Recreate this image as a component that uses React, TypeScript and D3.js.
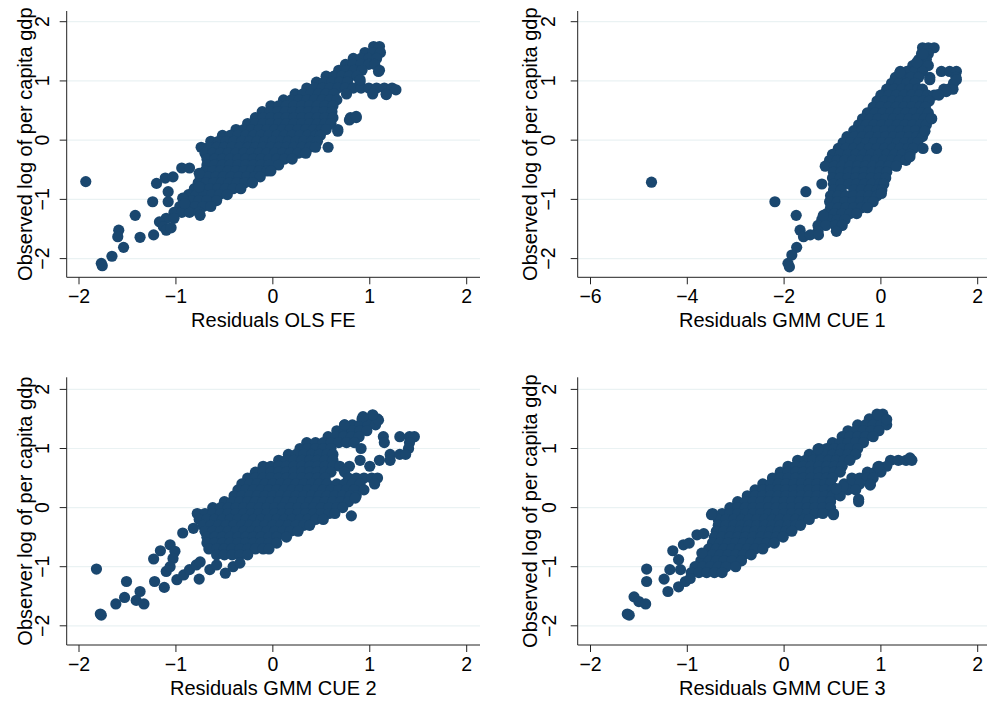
import React from 'react';
import * as d3 from 'd3';

const W = 987;
const H = 704;
const NAVY = '#1a476f';
const GRID = '#eaf2f3';
const FONT = '"Liberation Sans", Arial, Helvetica, sans-serif';

const yTicks = [-2, -1, 0, 1, 2];
const xTicksNarrow = [-2, -1, 0, 1, 2];
const xTicksWide = [-6, -4, -2, 0, 2];

const xTitles = ['Residuals OLS FE', 'Residuals GMM CUE 1', 'Residuals GMM CUE 2', 'Residuals GMM CUE 3'];
const yTitles = [
  'Observed log of per capita gdp',
  'Observed log of per capita gdp',
  'Observer log of per capita gdp',
  'Observed log of per capita gdp',
];

// dense cloud, one row per level of y: [y, x values read along the row]
const olsRows: [number, number[]][] = [
  [1.58, [1.04, 1.10]],
  [1.48, [0.95, 1.03, 1.11]],
  [1.38, [0.83, 0.91, 0.99, 1.07]],
  [1.28, [0.75, 0.83, 0.91, 0.99, 1.05]],
  [1.18, [0.68, 0.76, 0.84, 0.92, 1.10]],
  [1.08, [0.55, 0.63, 0.71, 0.79, 0.87]],
  [0.98, [0.45, 0.53, 0.61, 0.69, 0.77, 0.90]],
  [0.88, [0.35, 0.43, 0.51, 0.59, 0.67, 0.75, 0.83, 0.91, 0.99, 1.07, 1.15, 1.23]],
  [0.78, [0.23, 0.31, 0.39, 0.47, 0.55, 0.63, 0.76, 1.03, 1.17]],
  [0.68, [0.11, 0.19, 0.27, 0.35, 0.43, 0.51, 0.59, 0.66]],
  [0.58, [-0.02, 0.06, 0.14, 0.22, 0.30, 0.38, 0.46, 0.54, 0.62]],
  [0.48, [-0.11, -0.03, 0.05, 0.13, 0.21, 0.29, 0.37, 0.45, 0.53, 0.61]],
  [0.38, [-0.18, -0.10, -0.02, 0.06, 0.14, 0.22, 0.30, 0.38, 0.46, 0.54, 0.62, 0.80, 0.86]],
  [0.28, [-0.26, -0.18, -0.10, -0.02, 0.06, 0.14, 0.22, 0.30, 0.38, 0.46, 0.54, 0.60]],
  [0.18, [-0.38, -0.30, -0.22, -0.14, -0.06, 0.02, 0.10, 0.18, 0.26, 0.34, 0.42, 0.50, 0.55, 0.67]],
  [0.08, [-0.52, -0.44, -0.36, -0.28, -0.20, -0.12, -0.04, 0.04, 0.12, 0.20, 0.28, 0.36, 0.44, 0.49]],
  [-0.02, [-0.64, -0.56, -0.48, -0.40, -0.32, -0.24, -0.16, -0.08, 0.00, 0.08, 0.16, 0.24, 0.32, 0.40, 0.46]],
  [-0.12, [-0.74, -0.66, -0.58, -0.50, -0.42, -0.34, -0.26, -0.18, -0.10, -0.02, 0.06, 0.14, 0.22, 0.30, 0.38, 0.44, 0.57]],
  [-0.22, [-0.70, -0.62, -0.54, -0.46, -0.38, -0.30, -0.22, -0.14, -0.06, 0.02, 0.10, 0.18, 0.26, 0.34]],
  [-0.32, [-0.68, -0.60, -0.52, -0.44, -0.36, -0.28, -0.20, -0.12, -0.04, 0.04, 0.12, 0.20]],
  [-0.42, [-0.68, -0.60, -0.52, -0.44, -0.36, -0.28, -0.20, -0.12, -0.04, 0.06]],
  [-0.52, [-0.70, -0.62, -0.54, -0.46, -0.38, -0.30, -0.22, -0.14, -0.06, -0.02]],
  [-0.62, [-0.75, -0.67, -0.59, -0.51, -0.43, -0.35, -0.27, -0.19, -0.13]],
  [-0.72, [-0.77, -0.69, -0.61, -0.53, -0.45, -0.37, -0.29, -0.21]],
  [-0.82, [-0.81, -0.73, -0.65, -0.57, -0.49, -0.41, -0.33]],
  [-0.92, [-0.87, -0.79, -0.71, -0.63, -0.55, -0.47]],
  [-1.02, [-0.92, -0.84, -0.76, -0.68, -0.58]],
  [-1.12, [-0.96, -0.88, -0.80, -0.72, -0.64]],
  [-1.22, [-1.02, -0.94, -0.86, -0.76]],
  [-1.32, [-1.10, -1.02]],
];
const olsLoose: [number, number][] = [
  [-1.93, -0.70], [-1.77, -2.08], [-1.76, -2.12], [-1.66, -1.96], [-1.54, -1.81], [-1.59, -1.52],
  [-1.60, -1.63], [-1.42, -1.27], [-1.37, -1.64], [-1.24, -1.04], [-1.23, -1.60], [-1.20, -0.73],
  [-1.11, -0.64], [-1.03, -0.62], [-1.08, -0.87], [-1.08, -1.04], [-1.17, -1.38], [-1.13, -1.46],
  [-1.10, -1.52], [-1.05, -1.48], [-0.94, -0.47], [-0.86, -0.47], [-0.93, -0.98], [-0.91, -1.07],
  [-0.76, -0.56], [-0.75, -1.27], [-0.76, -0.79], [0.79, 0.34], [0.86, 0.40], [0.67, 0.15],
  [1.27, 0.85], [1.17, 0.77], [1.09, 1.16], [0.90, 1.02],
];

const cue1Rows: [number, number[]][] = [
  [1.56, [0.86, 0.98, 1.10]],
  [1.46, [0.84, 0.98]],
  [1.36, [0.78, 0.94]],
  [1.26, [0.66, 0.82, 0.98]],
  [1.16, [0.40, 0.54, 0.70, 0.86, 1.25, 1.42, 1.56]],
  [1.06, [0.30, 0.46, 0.62, 0.78, 1.01, 1.55]],
  [0.96, [0.22, 0.38, 0.54, 0.70, 1.50]],
  [0.86, [0.12, 0.28, 0.44, 0.60, 0.76, 0.86, 1.30, 1.40, 1.49]],
  [0.76, [0.00, 0.16, 0.32, 0.48, 0.64, 0.80, 0.96, 1.10, 1.20]],
  [0.66, [-0.08, 0.08, 0.24, 0.40, 0.56, 0.72, 0.88, 1.00]],
  [0.56, [-0.16, 0.00, 0.16, 0.32, 0.48, 0.64, 0.80, 0.92]],
  [0.46, [-0.28, -0.12, 0.04, 0.20, 0.36, 0.52, 0.68, 0.84, 0.98]],
  [0.36, [-0.38, -0.22, -0.06, 0.10, 0.26, 0.42, 0.58, 0.74, 0.90, 1.05]],
  [0.26, [-0.46, -0.30, -0.14, 0.02, 0.18, 0.34, 0.50, 0.66, 0.82, 0.94]],
  [0.16, [-0.56, -0.40, -0.24, -0.08, 0.08, 0.24, 0.40, 0.56, 0.72, 0.90]],
  [0.06, [-0.70, -0.54, -0.38, -0.22, -0.06, 0.10, 0.26, 0.42, 0.58, 0.74, 0.86]],
  [-0.04, [-0.78, -0.62, -0.46, -0.30, -0.14, 0.02, 0.18, 0.34, 0.50, 0.66, 0.76]],
  [-0.14, [-0.88, -0.72, -0.56, -0.40, -0.24, -0.08, 0.08, 0.24, 0.40, 0.56, 0.67, 0.87, 1.15]],
  [-0.24, [-1.00, -0.84, -0.68, -0.52, -0.36, -0.20, -0.04, 0.12, 0.28, 0.44, 0.60]],
  [-0.34, [-1.06, -0.90, -0.74, -0.58, -0.42, -0.26, -0.10, 0.06, 0.22, 0.38, 0.52]],
  [-0.44, [-1.15, -0.96, -0.80, -0.64, -0.48, -0.32, -0.16, 0.00, 0.16, 0.32]],
  [-0.54, [-0.98, -0.82, -0.66, -0.50, -0.34, -0.18, -0.02, 0.12]],
  [-0.64, [-1.00, -0.84, -0.68, -0.52, -0.36, -0.20, -0.04, 0.10]],
  [-0.74, [-1.22, -0.98, -0.82, -0.66, -0.50, -0.34, -0.18, -0.02, 0.06]],
  [-0.84, [-0.98, -0.82, -0.56, -0.40, -0.24, -0.08, 0.02]],
  [-0.94, [-1.04, -0.88, -0.72, -0.56, -0.40, -0.24, -0.08]],
  [-1.04, [-1.06, -0.90, -0.74, -0.58, -0.42, -0.26, -0.16]],
  [-1.14, [-1.04, -0.88, -0.72, -0.56, -0.40, -0.28]],
  [-1.24, [-1.12, -0.96, -0.80, -0.64, -0.50]],
  [-1.34, [-1.22, -1.06, -0.90, -0.74]],
  [-1.44, [-1.30, -1.14, -0.94, -0.80]],
  [-1.54, [-1.30, -0.92]],
];
const cue1Loose: [number, number][] = [
  [-4.74, -0.71], [-2.19, -1.04], [-1.55, -0.87], [-1.75, -1.27], [-1.67, -1.52], [-1.60, -1.63],
  [-1.46, -1.60], [-1.74, -1.81], [-1.84, -1.94], [-1.92, -2.08], [-1.89, -2.14], [-1.29, -1.60],
  [-1.19, -1.27], [0.01, -0.90], [0.60, -0.28], [0.91, 0.15], [1.04, 0.37], [1.01, 1.02],
  [0.87, 1.45], [0.74, 1.31], [0.39, 1.14], [1.56, 1.02], [1.35, 0.82], [1.18, 0.77],
];

const cue2Rows: [number, number[]][] = [
  [1.56, [1.03]],
  [1.50, [0.92, 1.00, 1.08]],
  [1.40, [0.74, 0.82, 0.90, 0.98, 1.06]],
  [1.30, [0.66, 0.74, 0.82, 0.90, 0.97]],
  [1.20, [0.57, 0.65, 0.73, 0.81, 0.89, 1.14, 1.31, 1.41, 1.46]],
  [1.10, [0.35, 0.44, 0.52, 0.60, 0.68, 0.76, 0.84, 1.15, 1.41]],
  [1.00, [0.28, 0.36, 0.44, 0.52, 0.60, 0.91, 1.40]],
  [0.90, [0.16, 0.24, 0.32, 0.40, 0.48, 0.56, 0.62, 1.21, 1.31, 1.37]],
  [0.80, [0.06, 0.14, 0.22, 0.30, 0.38, 0.46, 0.54, 0.62, 0.90, 1.10, 1.21]],
  [0.70, [-0.10, -0.02, 0.06, 0.14, 0.22, 0.30, 0.38, 0.46, 0.54, 0.62, 0.69, 0.79, 1.00]],
  [0.60, [-0.18, -0.10, -0.02, 0.06, 0.14, 0.22, 0.30, 0.38, 0.46, 0.54, 0.60, 0.74]],
  [0.50, [-0.26, -0.18, -0.10, -0.02, 0.06, 0.14, 0.22, 0.30, 0.38, 0.46, 0.54, 0.78, 0.86, 0.94, 1.02, 1.08]],
  [0.40, [-0.32, -0.24, -0.16, -0.08, 0.00, 0.08, 0.16, 0.24, 0.32, 0.40, 0.48, 0.56, 0.66, 0.74, 0.82, 0.90, 1.05]],
  [0.30, [-0.36, -0.28, -0.20, -0.12, -0.04, 0.04, 0.12, 0.20, 0.28, 0.36, 0.44, 0.52, 0.60, 0.68, 0.76, 0.84, 0.94]],
  [0.20, [-0.40, -0.32, -0.24, -0.16, -0.08, 0.00, 0.08, 0.16, 0.24, 0.32, 0.40, 0.48, 0.56, 0.64, 0.72, 0.80, 0.86]],
  [0.10, [-0.50, -0.42, -0.34, -0.26, -0.18, -0.10, -0.02, 0.06, 0.14, 0.22, 0.30, 0.38, 0.46, 0.54, 0.62, 0.70, 0.78]],
  [0.00, [-0.62, -0.54, -0.46, -0.38, -0.30, -0.22, -0.14, -0.06, 0.02, 0.10, 0.18, 0.26, 0.34, 0.42, 0.50, 0.58, 0.66, 0.72]],
  [-0.10, [-0.78, -0.70, -0.62, -0.54, -0.46, -0.38, -0.30, -0.22, -0.14, -0.06, 0.02, 0.10, 0.18, 0.26, 0.34, 0.42, 0.50, 0.58, 0.64]],
  [-0.20, [-0.76, -0.68, -0.60, -0.52, -0.44, -0.36, -0.28, -0.20, -0.12, -0.04, 0.04, 0.12, 0.20, 0.28, 0.36, 0.44, 0.52]],
  [-0.30, [-0.72, -0.64, -0.56, -0.48, -0.40, -0.32, -0.24, -0.16, -0.08, 0.00, 0.08, 0.16, 0.24, 0.32, 0.38]],
  [-0.40, [-0.70, -0.62, -0.54, -0.46, -0.38, -0.30, -0.22, -0.14, -0.06, 0.02, 0.10, 0.18, 0.26]],
  [-0.50, [-0.68, -0.60, -0.52, -0.44, -0.36, -0.28, -0.20, -0.12, -0.04, 0.04, 0.14]],
  [-0.60, [-0.68, -0.60, -0.52, -0.44, -0.36, -0.28, -0.20, -0.12, -0.04, 0.04]],
  [-0.70, [-0.66, -0.58, -0.50, -0.42, -0.34, -0.26, -0.18, -0.10, -0.04]],
  [-0.80, [-0.58, -0.50, -0.42, -0.34, -0.26]],
];
const cue2Loose: [number, number][] = [
  [-1.82, -1.04], [-1.78, -1.80], [-1.77, -1.82], [-1.62, -1.63], [-1.53, -1.52], [-1.51, -1.25],
  [-1.37, -1.42], [-1.41, -1.57], [-1.33, -1.63], [-1.23, -0.87], [-1.22, -1.25], [-1.16, -0.73],
  [-1.12, -1.35], [-1.06, -0.63], [-1.01, -0.74], [-1.03, -0.86], [-1.10, -1.08], [-1.06, -1.00],
  [-0.99, -1.22], [-0.92, -1.14], [-0.86, -1.05], [-0.79, -0.97], [-0.75, -0.92], [-0.76, -1.21],
  [-0.93, -0.43], [-0.82, -0.35], [-0.65, -1.05], [-0.58, -0.97], [-0.49, -1.11], [-0.41, -1.00],
  [-0.34, -0.94], [0.81, -0.14], [0.85, 0.16], [1.09, 1.48], [1.03, 1.57], [0.93, 1.54], [0.74, 1.40],
];

const cue3Rows: [number, number[]][] = [
  [1.58, [0.96, 1.02]],
  [1.50, [0.88, 0.96, 1.04]],
  [1.40, [0.76, 0.84, 0.92, 1.00, 1.06]],
  [1.30, [0.66, 0.74, 0.82, 0.90, 0.98]],
  [1.20, [0.60, 0.68, 0.76, 0.84, 0.92]],
  [1.10, [0.50, 0.58, 0.66, 0.74, 0.82]],
  [1.00, [0.36, 0.44, 0.52, 0.60, 0.68, 0.76]],
  [0.90, [0.26, 0.34, 0.42, 0.50, 0.58, 0.66, 0.74]],
  [0.80, [0.14, 0.22, 0.30, 0.38, 0.46, 0.54, 0.62, 0.68, 1.10, 1.18, 1.26, 1.32]],
  [0.70, [0.04, 0.12, 0.20, 0.28, 0.36, 0.44, 0.52, 0.60, 0.98, 1.06]],
  [0.60, [-0.04, 0.04, 0.12, 0.20, 0.28, 0.36, 0.44, 0.52, 0.58, 0.86, 0.94, 1.00]],
  [0.50, [-0.12, -0.04, 0.04, 0.12, 0.20, 0.28, 0.36, 0.44, 0.50, 0.70, 0.78, 0.86, 0.92]],
  [0.40, [-0.22, -0.14, -0.06, 0.02, 0.10, 0.18, 0.26, 0.34, 0.42, 0.48, 0.62, 0.70, 0.78, 0.89]],
  [0.30, [-0.30, -0.22, -0.14, -0.06, 0.02, 0.10, 0.18, 0.26, 0.34, 0.42, 0.50, 0.58, 0.66, 0.74]],
  [0.20, [-0.38, -0.30, -0.22, -0.14, -0.06, 0.02, 0.10, 0.18, 0.26, 0.34, 0.42, 0.50, 0.58]],
  [0.10, [-0.48, -0.40, -0.32, -0.24, -0.16, -0.08, 0.00, 0.08, 0.16, 0.24, 0.32, 0.40, 0.48, 0.77]],
  [0.00, [-0.56, -0.48, -0.40, -0.32, -0.24, -0.16, -0.08, 0.00, 0.08, 0.16, 0.24, 0.32, 0.40, 0.48]],
  [-0.10, [-0.74, -0.64, -0.56, -0.48, -0.40, -0.32, -0.24, -0.16, -0.08, 0.00, 0.08, 0.16, 0.24, 0.32, 0.40, 0.51]],
  [-0.20, [-0.68, -0.60, -0.52, -0.44, -0.36, -0.28, -0.20, -0.12, -0.04, 0.04, 0.12, 0.20, 0.26]],
  [-0.30, [-0.68, -0.60, -0.52, -0.44, -0.36, -0.28, -0.20, -0.12, -0.04, 0.04, 0.12, 0.17]],
  [-0.40, [-0.70, -0.62, -0.54, -0.46, -0.38, -0.30, -0.22, -0.14, -0.06, 0.02, 0.08]],
  [-0.50, [-0.72, -0.64, -0.56, -0.48, -0.40, -0.32, -0.24, -0.16, -0.08, -0.01]],
  [-0.60, [-0.74, -0.66, -0.58, -0.50, -0.42, -0.34, -0.26, -0.18, -0.10]],
  [-0.70, [-0.78, -0.70, -0.62, -0.54, -0.46, -0.38, -0.30, -0.22]],
  [-0.80, [-0.82, -0.74, -0.66, -0.58, -0.50, -0.42, -0.34]],
  [-0.90, [-0.86, -0.78, -0.70, -0.62, -0.54, -0.44]],
  [-1.00, [-0.92, -0.84, -0.76, -0.68, -0.60, -0.50]],
  [-1.10, [-0.96, -0.88, -0.80, -0.72, -0.64]],
];
const cue3Loose: [number, number][] = [
  [-1.62, -1.80], [-1.60, -1.82], [-1.55, -1.51], [-1.50, -1.59], [-1.43, -1.63], [-1.42, -1.04],
  [-1.42, -1.25], [-1.24, -1.21], [-1.20, -1.42], [-1.18, -1.05], [-1.15, -0.73], [-1.09, -0.88],
  [-1.07, -1.05], [-1.09, -1.34], [-1.02, -1.25], [-0.97, -1.20], [-1.04, -0.63], [-0.98, -0.60],
  [-0.90, -0.46], [-0.83, -0.44], [-0.85, -0.77], [-0.75, -0.12], [0.51, -0.12], [0.77, 0.14],
  [0.97, 1.57], [1.06, 1.49], [0.35, 0.99], [1.30, 0.84], [0.97, 0.69], [0.89, 0.38],
  [0.61, 0.36], [0.54, 0.32],
];

const toPoints = (rows: [number, number[]][], loose: [number, number][]) => [
  ...rows.flatMap(([y, xs]) => xs.map(x => [x, y] as [number, number])),
  ...loose,
];

const panels = [
  { pts: toPoints(olsRows, olsLoose), xTicks: xTicksNarrow, xDom: [-2, 2], left: 66.7, right: 480, top: 11, bottom: 277.3, xR: [79, 466.7], yR: [258.6, 21.7], tickX: 49, titleX: 32 },
  { pts: toPoints(cue1Rows, cue1Loose), xTicks: xTicksWide, xDom: [-6, 2], left: 577.7, right: 987, top: 11, bottom: 277.3, xR: [590.5, 977.7], yR: [258.6, 21.7], tickX: 555, titleX: 537 },
  { pts: toPoints(cue2Rows, cue2Loose), xTicks: xTicksNarrow, xDom: [-2, 2], left: 66.7, right: 480, top: 377.3, bottom: 645, xR: [79, 466.7], yR: [625.8, 389.4], tickX: 49, titleX: 32 },
  { pts: toPoints(cue3Rows, cue3Loose), xTicks: xTicksNarrow, xDom: [-2, 2], left: 577.7, right: 987, top: 377.3, bottom: 645, xR: [590.5, 977.7], yR: [625.8, 389.4], tickX: 556, titleX: 537 },
];

const fmt = d3.format('d');

function Panel({ p, i }: { p: typeof panels[number]; i: number }) {
  const x = d3.scaleLinear().domain(p.xDom).range(p.xR);
  const y = d3.scaleLinear().domain([-2, 2]).range(p.yR);
  const midY = (p.top + p.bottom) / 2;
  const midX = (p.left + p.right) / 2;
  return (
    <g>
      {yTicks.map(t => (
        <line key={'g' + t} x1={p.left} x2={p.right} y1={y(t)} y2={y(t)} stroke={GRID} strokeWidth={1.2} />
      ))}
      {p.pts.map((d, k) => (
        <circle key={k} cx={x(d[0])} cy={y(d[1])} r={5.6} fill={NAVY} />
      ))}
      <line x1={p.left} x2={p.left} y1={p.top} y2={p.bottom} stroke="#222" strokeWidth={1} />
      <line x1={p.left} x2={p.right} y1={p.bottom} y2={p.bottom} stroke="#222" strokeWidth={1} />
      {yTicks.map(t => (
        <g key={'y' + t}>
          <line x1={p.left - 7} x2={p.left} y1={y(t)} y2={y(t)} stroke="#222" />
          <text transform={`translate(${p.tickX},${y(t)}) rotate(-90)`} textAnchor="middle" fontSize={19.5} fontFamily={FONT}>
            {fmt(t)}
          </text>
        </g>
      ))}
      {p.xTicks.map(t => (
        <g key={'x' + t}>
          <line x1={x(t)} x2={x(t)} y1={p.bottom} y2={p.bottom + 7} stroke="#222" />
          <text x={x(t)} y={p.bottom + 26} textAnchor="middle" fontSize={19.5} fontFamily={FONT}>
            {fmt(t)}
          </text>
        </g>
      ))}
      <text x={midX} y={p.bottom + 50} textAnchor="middle" fontSize={20} fontFamily={FONT}>
        {xTitles[i]}
      </text>
      <text transform={`translate(${p.titleX},${midY}) rotate(-90)`} textAnchor="middle" fontSize={20} fontFamily={FONT}>
        {yTitles[i]}
      </text>
    </g>
  );
}

export default function App() {
  return (
    <svg width={W} height={H} style={{ position: 'absolute', left: 0, top: 0, background: '#fff' }}>
      {panels.map((p, i) => (
        <Panel key={i} p={p} i={i} />
      ))}
    </svg>
  );
}
